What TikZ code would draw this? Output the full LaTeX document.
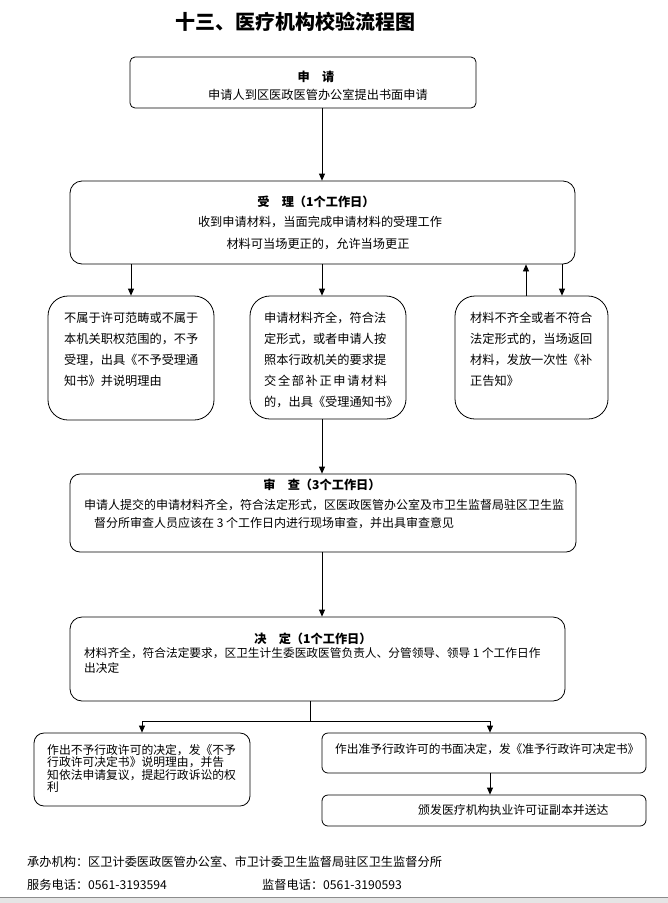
\documentclass[tikz,border=0pt]{standalone}
\usepackage{fontspec}
\setmainfont{Noto Sans CJK SC}
\usetikzlibrary{arrows.meta,calc}
\tikzset{
  box/.style={draw, line width=0.8pt, inner sep=0pt},
  ln/.style={line width=0.8pt},
  arr/.style={line width=0.8pt, -{Triangle[length=7pt,width=6pt]}},
  txt/.style={inner sep=0pt, align=left},
  ttl/.style={inner sep=0pt, font=\fontsize{12.2}{14}\selectfont\bfseries},
}
\begin{document}
\begin{tikzpicture}[x=1pt,y=-1pt]
\useasboundingbox (0,0) rectangle (668,903);
\fill[white] (0,0) rectangle (668,903);

% title
\node[inner sep=0pt, font=\fontsize{20}{24}\selectfont\bfseries] (title) at (295,22) {十三、医疗机构校验流程图};

% boxes
\node[box, rounded corners=5pt, minimum width=346pt, minimum height=51pt] (b1) at (303,82.5) {};
\node[box, rounded corners=12pt, minimum width=505pt, minimum height=83pt] (b2) at (322.5,222.5) {};
\node[box, rounded corners=20pt, minimum width=166pt, minimum height=124pt] (b3) at (131,358) {};
\node[box, rounded corners=20pt, minimum width=156pt, minimum height=123pt] (b4) at (328,357.5) {};
\node[box, rounded corners=20pt, minimum width=153pt, minimum height=123pt] (b5) at (531.5,357.5) {};
\node[box, rounded corners=10pt, minimum width=506pt, minimum height=78pt] (b6) at (323,513) {};
\node[box, rounded corners=12pt, minimum width=495pt, minimum height=84pt] (b7) at (317.5,659) {};
\node[box, rounded corners=10pt, minimum width=216pt, minimum height=73pt] (b8) at (142,769.5) {};
\node[box, rounded corners=6pt, minimum width=324pt, minimum height=40pt] (b9) at (484,753) {};
\node[box, rounded corners=6pt, minimum width=324pt, minimum height=31pt] (b10) at (484,810.5) {};

% texts
\node[ttl] (t1a) at (316,77) {申\quad 请};
\node[txt, font=\fontsize{12.2}{14}\selectfont] (t1b) at (318,95) {申请人到区医政医管办公室提出书面申请};

\node[ttl] (t2a) at (316,202) {受\quad 理（1个工作日）};
\node[txt, font=\fontsize{12.2}{14}\selectfont] (t2b) at (320,222) {收到申请材料，当面完成申请材料的受理工作};
\node[txt, font=\fontsize{12.2}{14}\selectfont] (t2c) at (318,244) {材料可当场更正的，允许当场更正};

\node[txt, anchor=west, font=\fontsize{12.2}{21}\selectfont] (t3) at (64,349.5) {不属于许可范畴或不属于\\本机关职权范围的，不予\\受理，出具《不予受理通\\知书》并说明理由};
\node[txt, anchor=west, font=\fontsize{12.2}{21}\selectfont] (t4) at (264,360) {申请材料齐全，符合法\\定形式，或者申请人按\\照本行政机关的要求提\\\makebox[123pt][l]{交\hfill 全\hfill 部\hfill 补\hfill 正\hfill 申\hfill 请\hfill 材\hfill 料}\\的，出具《受理通知书》};
\node[txt, anchor=west, font=\fontsize{12.2}{21}\selectfont] (t5) at (470,349.5) {材料不齐全或者不符合\\法定形式的，当场返回\\材料，发放一次性《补\\正告知》};

\node[ttl] (t6a) at (322,485) {审\quad 查（3个工作日）};
\node[txt, anchor=west, font=\fontsize{12}{18.5}\selectfont] (t6b) at (84,514) {申请人提交的申请材料齐全，符合法定形式，区医政医管办公室及市卫生监督局驻区卫生监\\\hspace*{10pt}督分所审查人员应该在 3 个工作日内进行现场审查，并出具审查意见};

\node[ttl] (t7a) at (313,639) {决\quad 定（1个工作日）};
\node[txt, anchor=west, font=\fontsize{11.7}{15}\selectfont] (t7b) at (84,660.5) {材料齐全，符合法定要求，区卫生计生委医政医管负责人、分管领导、领导 1 个工作日作\\出决定};

\node[txt, anchor=west, font=\fontsize{11.8}{12.5}\selectfont] (t8) at (47,768.5) {作出不予行政许可的决定，发《不予\\行政许可决定书》说明理由，并告\\知依法申请复议，提起行政诉讼的权\\利};
\node[txt, anchor=west, font=\fontsize{11.7}{14}\selectfont] (t9) at (335,749) {作出准予行政许可的书面决定，发《准予行政许可决定书》};
\node[txt, anchor=west, font=\fontsize{11.9}{14}\selectfont] (t10) at (418,810) {颁发医疗机构执业许可证副本并送达};

% footer
\node[txt, anchor=west, font=\fontsize{12.2}{14}\selectfont] (f1) at (27,862) {承办机构：区卫计委医政医管办公室、市卫计委卫生监督局驻区卫生监督分所};
\node[txt, anchor=west, font=\fontsize{12.2}{14}\selectfont] (f2) at (27,885) {服务电话：0561-3193594};
\node[txt, anchor=west, font=\fontsize{12.2}{14}\selectfont] (f3) at (262,885) {监督电话：0561-3190593};

% bottom band
\fill[black!10] (0,897) rectangle (668,903);
\draw[black!45, line width=0.8pt] (0,897) -- (668,897);

% connectors
\coordinate (spine) at (322,0);
\coordinate (up5) at (526,0);
\coordinate (dn5) at (562,0);
\coordinate (j) at (310,721);
\coordinate (c9) at (490,0);

\draw[arr] (b1.south -| spine) -- (b2.north -| spine);
\draw[arr] (b2.south -| b3.north) -- (b3.north);
\draw[arr] (b2.south -| spine) -- (b4.north -| spine);
\draw[arr] (b5.north -| up5) -- (b2.south -| up5);
\draw[arr] (b2.south -| dn5) -- (b5.north -| dn5);
\draw[arr] (b4.south -| spine) -- (b6.north -| spine);
\draw[arr] (b6.south -| spine) -- (b7.north -| spine);
\draw[ln] (b7.south -| j) -- (j);
\draw[arr] (j) -| (b8.north);
\draw[arr] (j) -| (b9.north -| c9);
\draw[arr] (b9.south -| c9) -- (b10.north -| c9);
\end{tikzpicture}
\end{document}
